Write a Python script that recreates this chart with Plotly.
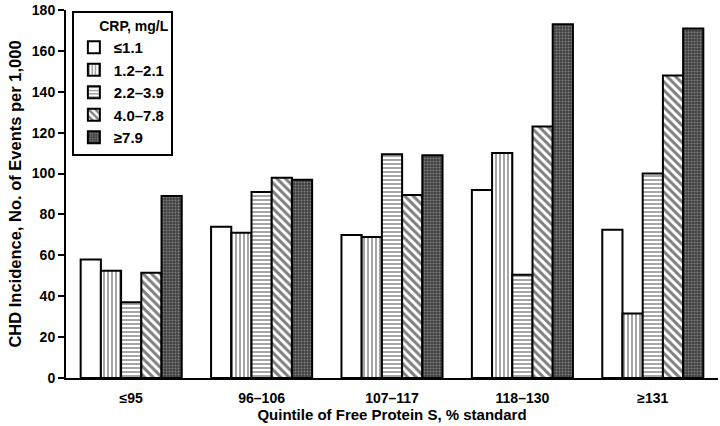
import plotly.graph_objects as go

categories = ["≤95", "96–106", "107–117", "118–130", "≥131"]
series_names = ["≤1.1", "1.2–2.1", "2.2–3.9", "4.0–7.8", "≥7.9"]
crp_le_1_1 = [58, 74, 70, 92, 72.5]
crp_1_2_2_1 = [52.5, 71, 69, 110, 31.5]
crp_2_2_3_9 = [37, 91, 109.5, 50.5, 100]
crp_4_0_7_8 = [51.5, 98, 89.5, 123, 148]
crp_ge_7_9 = [89, 97, 109, 173, 171]
y_ticks = [0, 20, 40, 60, 80, 100, 120, 140, 160, 180]

values = [crp_le_1_1, crp_1_2_2_1, crp_2_2_3_9, crp_4_0_7_8, crp_ge_7_9]
patterns = [
    dict(shape="", bgcolor="white"),
    dict(shape="|", bgcolor="white", fgcolor="black", size=4, solidity=0.35),
    dict(shape="-", bgcolor="white", fgcolor="black", size=4, solidity=0.35),
    dict(shape="\\", bgcolor="white", fgcolor="black", size=6, solidity=0.5),
    dict(shape=".", bgcolor="#404040", fgcolor="#bdbdbd", size=3, solidity=0.35),
]

font_family = "Liberation Sans, Arial, sans-serif"

fig = go.Figure()
for name, vals, pat in zip(series_names, values, patterns):
    fig.add_trace(go.Bar(
        x=categories, y=vals, name=name,
        marker=dict(color="white", line=dict(color="black", width=2), pattern=pat),
    ))

fig.update_layout(
    width=720, height=426,
    margin=dict(l=66, r=2, t=5, b=48),
    paper_bgcolor="white", plot_bgcolor="white",
    barmode="group", bargap=0.225, bargroupgap=0,
    font=dict(family=font_family, color="black", size=14, weight="bold"),
    legend=dict(
        x=0.009, y=0.998, xanchor="left", yanchor="top",
        bordercolor="black", borderwidth=2, bgcolor="white",
        title=dict(text="      CRP, mg/L", font=dict(size=14, weight="bold")),
        font=dict(size=15, weight="bold"),
        itemwidth=30,
    ),
    xaxis=dict(
        showline=True, linecolor="black", linewidth=2,
        ticks="", tickfont=dict(size=14, weight="bold"), ticklabelstandoff=6,
        title=dict(text="Quintile of Free Protein S, % standard", font=dict(size=15, weight="bold"), standoff=2),
        range=[-0.5, 4.5],
    ),
    yaxis=dict(
        range=[0, 180], tickvals=y_ticks,
        showline=True, linecolor="black", linewidth=2,
        ticks="outside", ticklen=6, tickwidth=2, tickcolor="black",
        showgrid=False, zeroline=False, ticklabeloverflow="allow",
        tickfont=dict(size=14, weight="bold"),
        title=dict(text="CHD Incidence, No. of Events per 1,000", font=dict(size=16.5, weight="bold"), standoff=6),
    ),
)

fig.write_html(
    "out.html",
    config={"displayModeBar": False},
    post_script="document.body.style.margin='0';document.body.style.padding='0';",
)
